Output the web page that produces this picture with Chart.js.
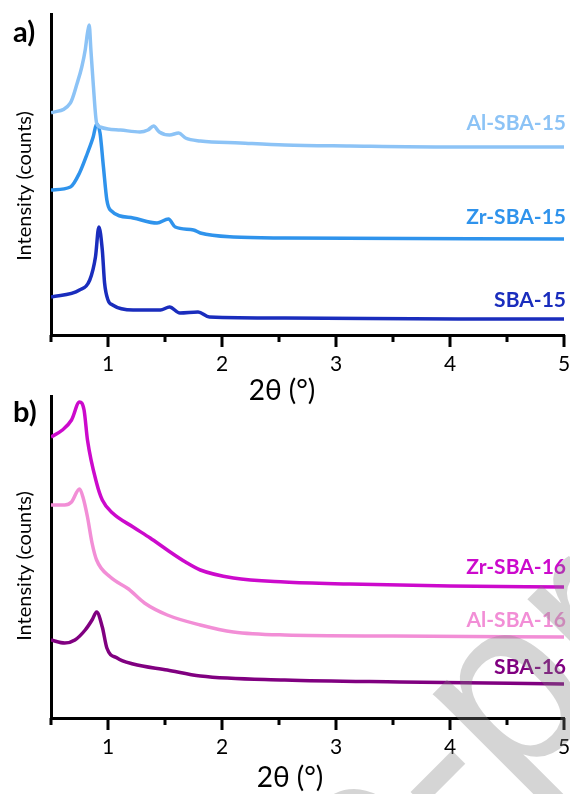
<!DOCTYPE html>
<html lang="en">
<head>
  <meta charset="UTF-8">
  <title>Low-angle XRD</title>
  <script src="https://cdn.jsdelivr.net/npm/chart.js"></script>
  <style>
    body { margin: 0; background: #fff; }
    .wrap { position: relative; width: 570px; height: 794px; overflow: hidden; background: #fff; }
    canvas { position: absolute; left: 0; }
    #chartA { top: 0; }
    #chartB { top: 385px; }
    svg.mark { position: absolute; left: 0; top: 0; pointer-events: none; }
  </style>
</head>
<body>
  <div class="wrap">
    <canvas id="chartA" width="570" height="406"></canvas>
    <canvas id="chartB" width="570" height="409"></canvas>
    <svg class="mark" width="570" height="794">
      <text x="-413" y="1719" transform="rotate(-45 -413 1719)" font-family="Liberation Sans" font-size="240" fill="#808080" fill-opacity="0.33">Journal Pre-proof</text>
    </svg>
  </div>

  <script>
    // panel a) SBA-15 family
    const xAl15 = [0.5, 0.67, 0.73, 0.77, 0.8, 0.82, 0.835, 0.85, 0.87, 0.9, 0.93, 1.0, 1.11, 1.28, 1.35, 1.4, 1.45, 1.54, 1.62, 1.68, 1.81, 2.16, 2.55, 3.12, 4.0, 5.0];
    const yAl15 = [222, 232, 252, 268, 285, 302, 310, 285, 252, 212, 208, 206, 205, 203, 205, 209, 203, 200, 202, 197, 194, 192, 190, 189, 188, 188];

    const xZr15 = [0.5, 0.67, 0.75, 0.82, 0.87, 0.9, 0.93, 0.96, 0.99, 1.02, 1.22, 1.43, 1.53, 1.59, 1.75, 1.81, 2.1, 2.55, 5.0];
    const yZr15 = [145, 148, 162, 182, 198, 211, 202, 168, 135, 125, 117, 112, 116, 108, 105, 102, 98, 97, 96];

    const xSba15 = [0.5, 0.75, 0.84, 0.89, 0.92, 0.95, 0.97, 1.0, 1.04, 1.22, 1.46, 1.54, 1.63, 1.79, 1.89, 2.55, 4.07, 5.0];
    const ySba15 = [38, 45, 55, 78, 108, 85, 52, 35, 30, 25, 25, 28, 22, 23, 18, 17, 16, 16];

    // panel b) SBA-16 family
    const xZr16 = [0.5, 0.6, 0.68, 0.75, 0.79, 0.82, 0.9, 0.95, 1.04, 1.22, 1.37, 1.52, 1.68, 1.81, 2.1, 2.55, 3.12, 4.0, 5.0];
    const yZr16 = [281, 288, 298, 316, 308, 278, 235, 218, 205, 191, 180, 168, 156, 148, 140, 136, 134, 132, 131];

    const xAl16 = [0.5, 0.62, 0.68, 0.75, 0.78, 0.82, 0.86, 0.9, 1.02, 1.18, 1.32, 1.52, 1.81, 2.1, 2.55, 3.5, 5.0];
    const yAl16 = [213, 213, 216, 229, 221, 201, 175, 158, 141, 129, 115, 103, 93, 86, 83, 82, 81];

    const xSba16 = [0.5, 0.62, 0.71, 0.8, 0.86, 0.9, 0.95, 0.99, 1.08, 1.22, 1.52, 1.81, 2.55, 3.56, 5.0];
    const ySba16 = [78, 75, 78, 88, 98, 106, 91, 70, 60, 54, 48, 42, 38, 36, 34];

    const xTickStep = 0.5;
    const xTitle = '2θ (°)';
    const yTitle = 'Intensity (counts)';

    function pts(xs, ys) {
      return xs.map((x, i) => ({ x: x, y: ys[i] }));
    }

    function series(label, xs, ys, color, lift) {
      return {
        label: label,
        data: pts(xs, ys),
        borderColor: color,
        borderWidth: 3.5,
        pointRadius: 0,
        cubicInterpolationMode: 'monotone',
        lift: lift,
      };
    }

    // tick marks, curve names, axis titles and panel letter
    const decor = {
      id: 'decor',
      afterDatasetsDraw(chart) {
        const ctx = chart.ctx;
        const area = chart.chartArea;
        ctx.save();
        ctx.font = 'bold 21px Lato';
        ctx.textAlign = 'right';
        ctx.textBaseline = 'middle';
        chart.data.datasets.forEach((ds, i) => {
          const p = chart.getDatasetMeta(i).data;
          const last = p[p.length - 1];
          ctx.fillStyle = ds.borderColor;
          ctx.fillText(ds.label, area.right + 2, last.y - ds.lift);
        });
        ctx.restore();
      },
      afterDraw(chart, args, opts) {
        const ctx = chart.ctx;
        const s = chart.scales.x;
        ctx.save();
        ctx.strokeStyle = '#000';
        ctx.lineWidth = 3;
        s.ticks.forEach(t => {
          const px = s.getPixelForValue(t.value);
          const len = Number.isInteger(t.value) ? 12 : 7;
          ctx.beginPath();
          ctx.moveTo(px, s.top);
          ctx.lineTo(px, s.top + len);
          ctx.stroke();
        });
        ctx.fillStyle = '#000';
        ctx.textBaseline = 'middle';
        ctx.textAlign = 'center';
        ctx.font = '28px Lato';
        ctx.fillText(xTitle, opts.titleX, opts.titleY);
        ctx.save();
        ctx.translate(25, opts.yTitleY);
        ctx.rotate(-Math.PI / 2);
        ctx.font = '20px Lato';
        ctx.fillText(yTitle, 0, 0);
        ctx.restore();
        ctx.font = 'bold 29px Lato';
        ctx.textAlign = 'left';
        ctx.fillText(opts.letter, 13, opts.letterY);
        ctx.restore();
      }
    };

    function makeChart(id, datasets, yMax, canvasH, areaTop, areaBottom, deco) {
      const ctx = document.getElementById(id).getContext('2d');
      return new Chart(ctx, {
        type: 'line',
        data: { datasets: datasets },
        plugins: [decor],
        options: {
          responsive: false,
          animation: false,
          devicePixelRatio: 1,
          layout: { padding: { left: 0, top: areaTop, right: 6, bottom: 0 } },
          plugins: {
            legend: { display: false },
            tooltip: { enabled: false },
            decor: deco,
          },
          scales: {
            x: {
              type: 'linear',
              min: 0.5,
              max: 5,
              grid: { display: false, drawTicks: false },
              border: { display: true, color: '#000', width: 3 },
              ticks: {
                stepSize: xTickStep,
                autoSkip: false,
                maxRotation: 0,
                padding: 17,
                color: '#000',
                font: { family: 'Lato', size: 21 },
                callback: v => Number.isInteger(v) ? String(v) : '',
              },
              afterFit: s => {
                s.height = canvasH - areaBottom;
                s.paddingLeft = 0;
                s.paddingRight = 0;
              },
            },
            y: {
              min: 0,
              max: yMax,
              grid: { display: false, drawTicks: false },
              border: { display: true, color: '#000', width: 3 },
              ticks: { display: false },
              afterFit: s => { s.width = 51; },
            },
          },
        },
      });
    }

    makeChart('chartA', [
      series('Al-SBA-15', xAl15, yAl15, '#8cc3f6', 24),
      series('Zr-SBA-15', xZr15, yZr15, '#2f93ec', 22),
      series('SBA-15', xSba15, ySba15, '#1a2dbd', 19),
    ], 321, 406, 14, 335, { letter: 'a)', letterY: 33, titleX: 282, titleY: 391, yTitleY: 186 });

    makeChart('chartB', [
      series('Zr-SBA-16', xZr16, yZr16, '#cc0acc', 20),
      series('Al-SBA-16', xAl16, yAl16, '#f28ed6', 17),
      series('SBA-16', xSba16, ySba16, '#800080', 17),
    ], 322, 409, 11, 333, { letter: 'b)', letterY: 28, titleX: 290, titleY: 393, yTitleY: 181 });
  </script>
</body>
</html>
